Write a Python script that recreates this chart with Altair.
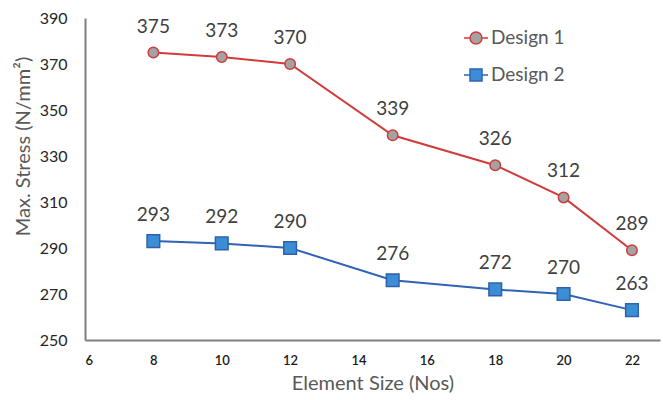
import altair as alt
import pandas as pd

element_size = [8, 10, 12, 15, 18, 20, 22]
design1 = [375, 373, 370, 339, 326, 312, 289]
design2 = [293, 292, 290, 276, 272, 270, 263]
series_names = ["Design 1", "Design 2"]
x_ticks = [6, 8, 10, 12, 14, 16, 18, 20, 22]
y_ticks = [250, 270, 290, 310, 330, 350, 370, 390]

rows = []
for name, vals in zip(series_names, [design1, design2]):
    for x, v in zip(element_size, vals):
        rows.append({"size": x, "stress": v, "series": name, "lg": name})
df = pd.DataFrame(rows)

FONT = "Lato"
line_colors = ["#d13b3b", "#2f63b5"]
fill_colors = ["#a3a3a3", "#3b8ed6"]
stroke_colors = ["#d13b3b", "#2e62a8"]

xs = alt.X("size:Q", scale=alt.Scale(domain=[6, 22.82], nice=False),
           axis=alt.Axis(values=x_ticks, title="Element Size (Nos)", grid=False,
                         ticks=False, labelPadding=14, domainColor="#7f7f7f",
                         domainWidth=2, labelFontSize=13, labelColor="#1a1a1a",
                         labelFontWeight=600,
                         titleFontSize=20, titleColor="#595959", titleFontWeight="normal",
                         titlePadding=6, labelFont=FONT, titleFont=FONT))
ys = alt.Y("stress:Q", scale=alt.Scale(domain=[250, 390], nice=False),
           axis=alt.Axis(values=y_ticks, title="Max. Stress (N/mm²)", grid=False,
                         ticks=False, labelPadding=18, domainColor="#7f7f7f",
                         domainWidth=2, labelFontSize=16, labelColor="#262626",
                         titleFontSize=20, titleColor="#595959", titleFontWeight="normal",
                         titleX=-62, titleY=128, titleAngle=-90, titleAlign="center",
                         titleBaseline="middle",
                         labelFont=FONT, titleFont=FONT))

base = alt.Chart(df)

lines = base.mark_line(strokeWidth=2).encode(
    x=xs, y=ys,
    color=alt.Color("series:N", scale=alt.Scale(domain=series_names, range=line_colors), legend=None),
)

points = base.mark_point(filled=True, strokeWidth=1.5, opacity=1).encode(
    x="size:Q", y="stress:Q",
    shape=alt.Shape("series:N", scale=alt.Scale(domain=series_names, range=["circle", "square"]), legend=None),
    fill=alt.Fill("series:N", scale=alt.Scale(domain=series_names, range=fill_colors), legend=None),
    stroke=alt.Stroke("series:N", scale=alt.Scale(domain=series_names, range=stroke_colors), legend=None),
    size=alt.Size("series:N", scale=alt.Scale(domain=series_names, range=[110, 160]), legend=None),
)

labels = base.mark_text(dy=-26, fontSize=19, color="#404040", font=FONT).encode(
    x="size:Q", y="stress:Q", text="stress:Q"
)

circle_path = "M-1,0L-0.5,0M0.5,0L1,0M-0.5,0A0.5,0.5,0,1,0,0.5,0A0.5,0.5,0,1,0,-0.5,0Z"
square_path = "M-1,0L-0.5,0M0.5,0L1,0M-0.5,-0.5L0.5,-0.5L0.5,0.5L-0.5,0.5Z"

legend_layer = base.mark_point(filled=True, opacity=0).encode(
    x="size:Q", y="stress:Q",
    shape=alt.Shape("lg:N", scale=alt.Scale(domain=series_names, range=[circle_path, square_path]),
                    legend=alt.Legend(title=None, orient="none", legendX=378, legendY=7,
                                      symbolOpacity=1, symbolStrokeWidth=1.5, symbolSize=576,
                                      labelFontSize=19, labelColor="#595959", labelFont=FONT,
                                      rowPadding=14, labelOffset=2)),
    fill=alt.Fill("lg:N", scale=alt.Scale(domain=series_names, range=fill_colors)),
    stroke=alt.Stroke("lg:N", scale=alt.Scale(domain=series_names, range=line_colors)),
)

chart = alt.layer(lines, points, labels, legend_layer).resolve_scale(
    shape="independent", fill="independent", stroke="independent"
).properties(
    width=575, height=322,
    padding={"left": 85, "top": 18, "right": 3, "bottom": 60},
    autosize=alt.AutoSizeParams(type="none"),
    background="white",
).configure_view(stroke=None)

chart.save("out.html", embed_options={"renderer": "svg", "actions": False})
